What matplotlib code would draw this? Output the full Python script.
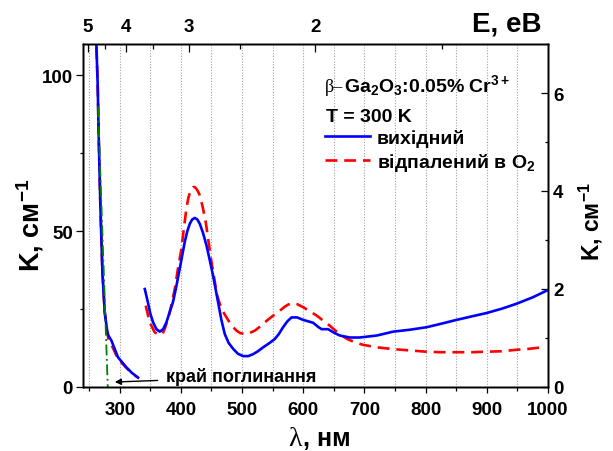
import matplotlib
matplotlib.use('Agg')
import matplotlib.pyplot as plt
import numpy as np
from matplotlib.ticker import FixedLocator, NullFormatter
from matplotlib.lines import Line2D

plt.rcParams['font.family'] = ['Liberation Sans', 'DejaVu Sans']
plt.rcParams['font.weight'] = 'bold'
plt.rcParams['mathtext.fontset'] = 'custom'
plt.rcParams['mathtext.rm'] = 'Liberation Sans:bold'
plt.rcParams['mathtext.it'] = 'Liberation Sans:bold'
plt.rcParams['mathtext.bf'] = 'Liberation Sans:bold'
plt.rcParams['mathtext.sf'] = 'Liberation Sans:bold'

# ---------------- data ----------------
# absorption edge region (left axis, K in cm^-1)
edge_wl = [261.0, 262.5, 264.0, 265.7, 268.4, 271.7, 275.5, 279.5, 281.5, 286.4, 297.3, 311.0, 320.0, 330.0]
edge_K_initial = [115, 106, 97, 80, 58, 37, 24, 18, 16.5, 14.9, 9.5, 6.3, 4.5, 3.0]
edge_K_annealed = [115, 106, 97, 80, 58, 37, 24, 17.5, 15.5, 13.6, 9.0, 6.1, 4.4, 3.0]

# linear extrapolation of the absorption edge
fit_wl = [264.5, 280.5]
fit_K = [90, 0]

# visible region (right axis, K in cm^-1)
vis_wl_initial = [341, 346, 350, 354.5, 360, 365.5, 371, 376.3, 381, 387, 392, 398, 406.3, 410.5,
                  414.5, 418.5, 422.7, 426.8, 430.9, 436, 441.8, 447, 452.6, 460.8, 466, 471.7,
                  478, 485.3, 493, 501.7, 510, 518, 526, 534.4, 544, 553.5, 560, 567, 574,
                  580.8, 590, 599.8, 608, 616.2, 625, 630, 640.7, 650, 659.8, 676, 692, 720,
                  747, 775, 801.6, 825, 850.7, 875, 899.8, 925, 948.8, 975, 1000]
vis_K_initial = [2.00, 1.73, 1.50, 1.32, 1.18, 1.13, 1.18, 1.32, 1.50, 1.73, 2.02, 2.41, 2.96, 3.18,
                 3.33, 3.42, 3.45, 3.42, 3.33, 3.15, 2.89, 2.60, 2.27, 1.73, 1.38, 1.08,
                 0.90, 0.78, 0.68, 0.63, 0.63, 0.67, 0.73, 0.81, 0.89, 0.98, 1.08, 1.22, 1.34,
                 1.42, 1.42, 1.37, 1.34, 1.31, 1.22, 1.18, 1.18, 1.11, 1.05, 1.01, 1.01, 1.05,
                 1.13, 1.17, 1.22, 1.29, 1.37, 1.44, 1.51, 1.60, 1.70, 1.83, 1.98]

vis_wl_annealed = [342.5, 349, 357, 363, 369.8, 374, 379, 384, 390, 395, 400.9, 405, 409, 412,
                   415, 417.5, 419.9, 422.5, 425, 428, 430.9, 435.5, 440.7, 445, 450, 459.2,
                   466, 474.5, 482, 490.9, 497, 504.4, 512, 520.8, 528, 537.2, 546, 556.3, 563,
                   570, 575, 580.8, 590, 599.8, 610, 621.7, 632, 643.5, 660, 673.4, 685, 698,
                   720, 741.6, 770, 801.6, 825, 850.7, 875, 899.8, 925, 948.8, 970, 990]
vis_K_annealed = [1.66, 1.32, 1.12, 1.07, 1.08, 1.20, 1.39, 1.65, 2.00, 2.40, 2.82, 3.25, 3.64, 3.85,
                  3.98, 4.05, 4.08, 4.08, 4.05, 3.99, 3.91, 3.68, 3.36, 2.98, 2.55, 1.87,
                  1.60, 1.42, 1.27, 1.15, 1.10, 1.08, 1.10, 1.15, 1.22, 1.32, 1.41, 1.51, 1.57,
                  1.64, 1.68, 1.71, 1.69, 1.63, 1.55, 1.46, 1.36, 1.25, 1.07, 0.97, 0.91, 0.86,
                  0.81, 0.78, 0.75, 0.72, 0.71, 0.71, 0.71, 0.72, 0.73, 0.76, 0.78, 0.81]

x_major = [300, 400, 500, 600, 700, 800, 900, 1000]
x_minor = [250, 350, 450, 550, 650, 750, 850, 950]
yl_major = [0, 50, 100]
yl_minor = [25, 75]
yr_major = [0, 2, 4, 6]
yr_minor = [1, 3, 5]
E_major = [5, 4, 3, 2]
E_minor = [4.5, 3.5, 2.5, 1.5]
HC = 1239.84

label_initial = 'вихідний'
label_annealed = 'відпалений в O$_2$'

# ---------------- figure ----------------
W, H = 613, 452
fig = plt.figure(figsize=(W / 100, H / 100), dpi=100)
L, R, T, B = 83, 548, 45, 388
ax = fig.add_axes([L / W, 1 - B / H, (R - L) / W, (B - T) / H])
ax2 = ax.twinx()
axt = ax.twiny()

blue = '#0000ff'
red = '#ff0000'
lw = 1.9
dash = (4.5, 2.6)

ax.plot(edge_wl, edge_K_annealed, color=red, lw=lw, dashes=dash, zorder=3, solid_joinstyle='round')
ax.plot(edge_wl, edge_K_initial, color=blue, lw=lw, zorder=4, solid_joinstyle='round')
ax.plot(fit_wl, fit_K, color='#008000', lw=1.3, linestyle=(0, (6, 2, 1, 2)), zorder=5)

ax2.plot(vis_wl_annealed, vis_K_annealed, color=red, lw=lw, dashes=dash, zorder=3, dash_joinstyle='round')
ax2.plot(vis_wl_initial, vis_K_initial, color=blue, lw=lw, zorder=4, solid_joinstyle='round')

ax.set_xlim(240, 1000)
ax.set_ylim(0, 110)
ax2.set_ylim(0, 7)
axt.set_xlim(ax.get_xlim())

ax.xaxis.set_major_locator(FixedLocator(x_major))
ax.xaxis.set_minor_locator(FixedLocator(x_minor))
ax.yaxis.set_major_locator(FixedLocator(yl_major))
ax.yaxis.set_minor_locator(FixedLocator(yl_minor))
ax2.yaxis.set_major_locator(FixedLocator(yr_major))
ax2.yaxis.set_minor_locator(FixedLocator(yr_minor))
axt.xaxis.set_major_locator(FixedLocator([HC / e for e in E_major]))
axt.xaxis.set_minor_locator(FixedLocator([HC / e for e in E_minor]))
axt.set_xticklabels([str(e) for e in E_major])
axt.xaxis.set_minor_formatter(NullFormatter())

ax.grid(axis='x', which='both', color='#a0a0a0', linestyle=(0, (1, 1.5)), lw=0.8, zorder=0)

fs_tick = 13.5
ax.tick_params(axis='x', which='major', direction='out', length=4.3, width=0.9, pad=5.6, labelsize=fs_tick)
ax.tick_params(axis='x', which='minor', direction='out', length=2.9, width=0.9)
ax.tick_params(axis='y', which='major', direction='out', length=5, width=0.9, pad=2.2, labelsize=fs_tick)
ax.tick_params(axis='y', which='minor', direction='out', length=2.4, width=0.9)
ax2.tick_params(axis='y', which='major', direction='in', length=5, width=0.9, pad=3.6, labelsize=fs_tick)
ax2.tick_params(axis='y', which='minor', direction='in', length=2.4, width=0.9)
axt.tick_params(axis='x', which='major', direction='in', length=5.5, width=0.9, pad=6.6, labelsize=fs_tick)
axt.tick_params(axis='x', which='minor', direction='in', length=3.6, width=0.9)

for a in (ax, ax2, axt):
    for s in a.spines.values():
        s.set_linewidth(1.0)

for lab in ax.get_xticklabels() + ax.get_yticklabels() + ax2.get_yticklabels() + axt.get_xticklabels():
    lab.set_fontweight('bold')

# axis labels
fig.text(30 / W, 1 - 225 / H, 'K, см$^{-1}$', rotation=90, ha='center', va='center', fontsize=19.5, fontweight='bold')
fig.text(591 / W, 1 - 222 / H, 'K, см$^{-1}$', rotation=90, ha='center', va='center', fontsize=16.5, fontweight='bold')
fig.text(288 / W, 1 - 446 / H, 'λ', family='Liberation Serif', fontweight='normal', fontsize=20, ha='left', va='baseline')
fig.text(303 / W, 1 - 446 / H, ', нм', fontsize=18, fontweight='bold', ha='left', va='baseline')
fig.text(542 / W, 1 - 31.7 / H, 'E, eB', fontsize=20, fontweight='bold', ha='right', va='baseline')

# header
fig.text(325 / W, 1 - 91.7 / H, 'β–', family='Liberation Serif', fontweight='normal', fontsize=13, ha='left', va='baseline')
fig.text(344 / W, 1 - 91.7 / H, 'Ga$_2$O$_3$:0.05% Cr$^{3+}$', fontsize=14, fontweight='bold', ha='left', va='baseline')
fig.text(326 / W, 1 - 121.7 / H, 'T = 300 K', fontsize=14, fontweight='bold', ha='left', va='baseline')

handles = [Line2D([], [], color=blue, lw=lw),
           Line2D([], [], color=red, lw=lw, dashes=dash)]
leg = fig.legend(handles, [label_initial, label_annealed], loc='upper left',
                 bbox_to_anchor=(325 / W, 1 - 130 / H), frameon=False, borderpad=0,
                 borderaxespad=0, handlelength=2.3, handletextpad=0.35, labelspacing=0.2,
                 prop={'size': 14, 'weight': 'bold'})

# annotation
ax.annotate('', xy=(292, 1.6), xytext=(362, 2.1),
            arrowprops=dict(arrowstyle='-|>', color='k', lw=1.0, mutation_scale=9, shrinkA=0, shrinkB=0))
ax.text(375, 2.0, 'край поглинання', fontsize=13, fontweight='bold', ha='left', va='baseline')

fig.savefig('out.png', dpi=100)
